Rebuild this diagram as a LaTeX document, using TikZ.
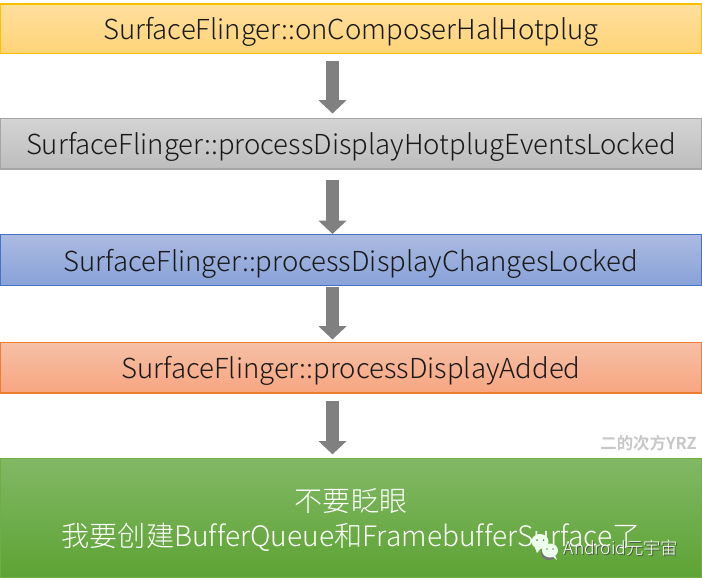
\documentclass[tikz,border=0pt]{standalone}
\usepackage{fontspec}
\setmainfont{Noto Sans CJK SC}[UprightFont={* Light},BoldFont={* Bold},Ligatures=NoCommon]
\usetikzlibrary{arrows.meta}
\tikzset{
  x=0.75pt,y=-0.75pt,
  stage/.style={draw=#1,line width=1pt,minimum width=525.5pt,inner sep=0pt,font=\fontsize{20.65pt}{25.5pt}\selectfont,text=black!90,align=center,text height=17.2pt,text depth=0pt},
  flow/.style={draw=black!50,line width=9.75pt,-{Triangle[length=10pt,width=20.5pt]}},
}
\definecolor{aT}{HTML}{FFDF9E}\definecolor{aB}{HTML}{FFD478}\definecolor{aL}{HTML}{FFC000}
\definecolor{bT}{HTML}{D4D4D4}\definecolor{bB}{HTML}{BDBDBD}\definecolor{bL}{HTML}{A5A5A5}
\definecolor{cT}{HTML}{ABBAE1}\definecolor{cB}{HTML}{88A2D8}\definecolor{cL}{HTML}{4472C4}
\definecolor{dT}{HTML}{F6C0A6}\definecolor{dB}{HTML}{F7A580}\definecolor{dL}{HTML}{ED7D31}
\definecolor{eT}{HTML}{82B865}\definecolor{eB}{HTML}{5DA334}\definecolor{eL}{HTML}{70AD47}
\begin{document}
\begin{tikzpicture}
\useasboundingbox (0,0) rectangle (702,579);
\node[stage=aL,top color=aT,bottom color=aB,minimum height=37pt] (n1) at (351,28.5) {SurfaceFlinger::onComposerHalHotplug};
\node[stage=bL,top color=bT,bottom color=bB,minimum height=38pt] (n2) at (351,143.5) {SurfaceFlinger::processDisplayHotplugEventsLocked};
\node[stage=cL,top color=cT,bottom color=cB,minimum height=38pt] (n3) at (351,260) {SurfaceFlinger::processDisplayChangesLocked};
\node[stage=dL,top color=dT,bottom color=dB,minimum height=38pt] (n4) at (351,367.5) {SurfaceFlinger::processDisplayAdded};
\node[stage=eL,top color=eT,bottom color=eB,minimum height=89.5pt,text=white,font=\fontsize{21.1pt}{26.5pt}\selectfont,text height=43pt,text depth=0pt] (n5) at (351,518) {不要眨眼\\我要创建BufferQueue和FramebufferSurface了};
\coordinate (ax) at (332.5,0);
\draw[flow,shorten <=5pt,shorten >=3pt] (n1.south -| ax) -- (n2.north -| ax);
\draw[flow,shorten <=8pt,shorten >=0pt] (n2.south -| ax) -- (n3.north -| ax);
\draw[flow,shorten <=1pt,shorten >=1.5pt] (n3.south -| ax) -- (n4.north -| ax);
\draw[flow,shorten <=5.5pt,shorten >=2.5pt] (n4.south -| ax) -- (n5.north -| ax);
\node[text=black!22,font=\bfseries\fontsize{12.3pt}{14pt}\selectfont,inner sep=0pt] (wm) at (648.5,443) {二的次方YRZ};
% WeChat mark
\fill[white!92!green] (540,541.5) ellipse [x radius=8.5,y radius=7.5];
\fill[white!92!green] (535,548) -- (537,553) -- (541,548) -- cycle;
\fill[black!55] (549,553) ellipse [x radius=8,y radius=7];
\fill[white!92!green] (550,550.5) ellipse [x radius=8,y radius=7];
\fill[white!92!green] (555,555) -- (557,560) -- (552,556) -- cycle;
\fill[black!50] (537,540) circle (1) (543.5,540) circle (1) (547,549) circle (0.9) (553,549) circle (0.9);
\node[text=black!70,font=\fontsize{13pt}{15pt}\selectfont,inner sep=0pt] at (622,549) {Android元宇宙};
\node[text=white,font=\fontsize{13pt}{15pt}\selectfont,inner sep=0pt] (wx) at (621,548) {Android元宇宙};
\end{tikzpicture}
\end{document}
